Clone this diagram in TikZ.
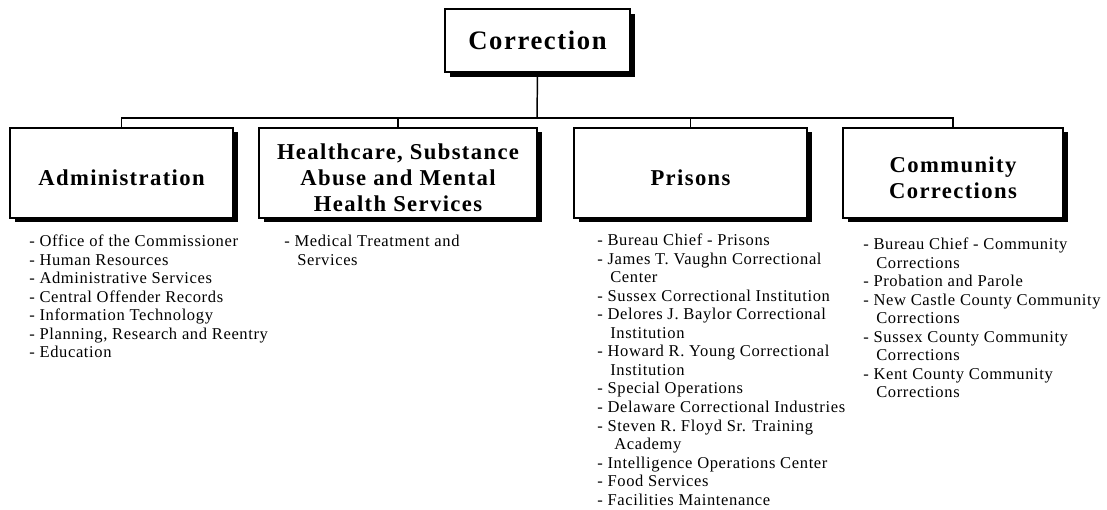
\documentclass[tikz,border=0pt]{standalone}
\usepackage{fontspec}
\setmainfont{Liberation Serif}
\newfontfamily\headfont{Liberation Serif}[LetterSpace=6]
\newfontfamily\listfont{Liberation Serif}[LetterSpace=3.8]
\usetikzlibrary{shadows}

% box captions: centred lines, set slightly low in the box
\newcommand{\headlines}[1]{\raisebox{-5.5pt}[\height][\depth]{\begin{tabular}{@{}c@{}}#1\end{tabular}}}
% unit lists: left aligned, baseline on the first line
\newcommand{\itemlines}[1]{\begin{tabular}[t]{@{}l@{}}#1\end{tabular}}
\newcommand{\cont}{\hspace*{9.75pt}}

\tikzset{
  orgbox/.style={draw, line width=1.5pt, fill=white, inner sep=0pt,
    minimum height=67.5pt, text=black,
    drop shadow={shadow xshift=3.5pt, shadow yshift=-3.5pt, opacity=1, fill=black}},
  headtext/.style={font=\headfont\bfseries\fontsize{17}{19.5}\selectfont},
  listtext/.style={inner sep=0pt, anchor=base west,
    font=\listfont\fontsize{12.4}{13.9}\selectfont},
  link/.style={line width=1.1pt}
}

\begin{document}
\begin{tikzpicture}[x=0.75pt, y=-0.75pt]
\useasboundingbox (0,0) rectangle (1107,510);

% top of the chart
\node[orgbox, minimum width=138.75pt, minimum height=47.25pt,
      font=\headfont\bfseries\fontsize{20}{24}\selectfont] (corr) at (537.5,40.5)
  {Correction};

% divisions
\node[orgbox, headtext, minimum width=167.25pt] (adm) at (121.5,172.75)
  {\headlines{Administration}};
\node[orgbox, headtext, minimum width=208.5pt] (hlth) at (398,172.75)
  {\headlines{Healthcare, Substance\\Abuse and Mental\\Health Services}};
\node[orgbox, headtext, minimum width=174.75pt] (pris) at (690.5,172.75)
  {\headlines{Prisons}};
\node[orgbox, headtext, minimum width=165pt] (comm) at (953,172.75)
  {\headlines{Community\\Corrections}};

% connectors
\coordinate (bus) at (537,118);
\draw[link] (corr.south) -- (bus);
\draw[link] (adm.north) |- (bus) -| (comm.north);
\draw[link] (hlth.north) -- (hlth.north |- bus);
\draw[link] (pris.north) -- (pris.north |- bus);

% units of each division
\node[listtext] (admlist) at (29,246.5) {\itemlines{%
  - Office of the Commissioner\\
  - Human Resources\\
  - Administrative Services\\
  - Central Offender Records\\
  - Information Technology\\
  - Planning, Research and Reentry\\
  - Education}};

\node[listtext] (hlthlist) at (284,246.5) {\itemlines{%
  - Medical Treatment and\\
  \cont Services}};

\node[listtext] (prislist) at (597,245.7) {\itemlines{%
  - Bureau Chief - Prisons\\
  - James T. Vaughn Correctional\\
  \cont Center\\
  - Sussex Correctional Institution\\
  - Delores J. Baylor Correctional\\
  \cont Institution\\
  - Howard R. Young Correctional\\
  \cont Institution\\
  - Special Operations\\
  - Delaware Correctional Industries\\
  - Steven R. Floyd Sr. Training\\
  \cont\hspace*{3pt}Academy\\
  - Intelligence Operations Center\\
  - Food Services\\
  - Facilities Maintenance}};

\node[listtext] (commlist) at (863,249.5) {\itemlines{%
  - Bureau Chief - Community\\
  \cont Corrections\\
  - Probation and Parole\\
  - New Castle County Community\\
  \cont Corrections\\
  - Sussex County Community\\
  \cont Corrections\\
  - Kent County Community\\
  \cont Corrections}};
\end{tikzpicture}
\end{document}
